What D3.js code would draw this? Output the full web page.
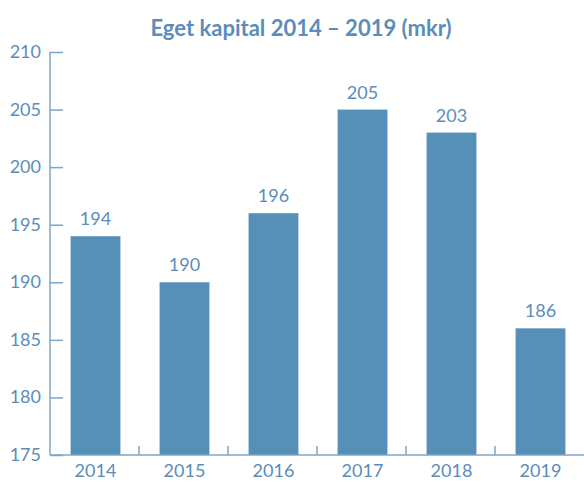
<!DOCTYPE html>
<html>
<head>
<meta charset="utf-8">
<script src="https://cdn.jsdelivr.net/npm/d3@7"></script>
<style>
  body { margin: 0; background: #fff; }
  text { font-family: Lato, "Open Sans", sans-serif; }
</style>
</head>
<body>
<div id="chart"></div>
<script>
var years = ['2014', '2015', '2016', '2017', '2018', '2019'];
var values = [194, 190, 196, 205, 203, 186];
var yTicks = [175, 180, 185, 190, 195, 200, 205, 210];

var width = 584, height = 482;
var barColor = '#568fb8', textColor = '#5b8dba', axisColor = '#7fa6c6';

var svg = d3.select('#chart').append('svg').attr('width', width).attr('height', height);

var x = d3.scaleBand().domain(years).range([50, 584]).paddingInner(0.44).paddingOuter(0.22);
var y = d3.scaleLinear().domain([175, 210]).range([455, 52]);

// title
svg.append('text').attr('x', 301).attr('y', 36).attr('text-anchor', 'middle')
    .style('font-size', '22px').style('font-weight', 'bold').style('fill', textColor)
    .text('Eget kapital 2014 – 2019 (mkr)');

// bars
svg.selectAll('.bar').data(values).enter().append('rect')
    .attr('x', function(d, i) { return x(years[i]) + 1; })
    .attr('y', function(d) { return y(d); })
    .attr('width', x.bandwidth())
    .attr('height', function(d) { return y(175) - y(d); })
    .style('fill', barColor);

// value labels
svg.selectAll('.val').data(values).enter().append('text')
    .attr('x', function(d, i) { return x(years[i]) + 1 + x.bandwidth() / 2; })
    .attr('y', function(d) { return y(d) - 11; })
    .attr('text-anchor', 'middle')
    .style('font-size', '18px').style('fill', textColor)
    .text(function(d) { return d; });

// y axis
var yAxis = svg.append('g').attr('transform', 'translate(50,0)')
    .call(d3.axisRight(y).tickValues(yTicks).tickSize(13).tickFormat(''));
yAxis.select('.domain').attr('stroke', axisColor).attr('stroke-width', 1.5).attr('d', 'M0,' + y(210) + 'V' + y(175));
yAxis.selectAll('.tick line').attr('stroke', axisColor).attr('stroke-width', 1.5);

svg.selectAll('.ylab').data(yTicks).enter().append('text')
    .attr('x', 41).attr('y', function(d) { return y(d) + 6; })
    .attr('text-anchor', 'end')
    .style('font-size', '18px').style('fill', textColor)
    .text(function(d) { return d; });

// x axis line with ticks between categories
var xStep = x.step();
var bounds = years.slice(1).map(function(d) { return x(d) - x.paddingInner() * xStep / 2; });
svg.append('line').attr('x1', 50).attr('x2', 584).attr('y1', y(175)).attr('y2', y(175))
    .attr('stroke', axisColor).attr('stroke-width', 1.5);
svg.selectAll('.xtick').data(bounds).enter().append('line')
    .attr('x1', function(d) { return d; }).attr('x2', function(d) { return d; })
    .attr('y1', y(175)).attr('y2', y(175) - 9)
    .attr('stroke', axisColor).attr('stroke-width', 1.5);

svg.selectAll('.xlab').data(years).enter().append('text')
    .attr('x', function(d) { return x(d) + 1 + x.bandwidth() / 2; })
    .attr('y', 477)
    .attr('text-anchor', 'middle')
    .style('font-size', '18px').style('fill', textColor)
    .text(function(d) { return d; });
</script>
</body>
</html>
